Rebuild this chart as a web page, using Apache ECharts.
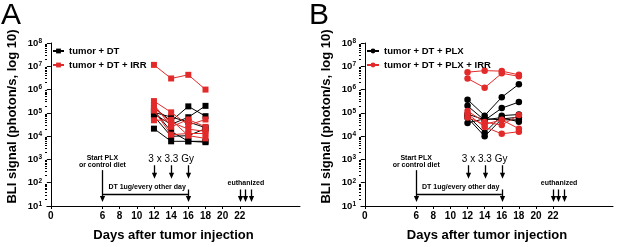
<!DOCTYPE html>
<html><head><meta charset="utf-8">
<script src="https://cdn.jsdelivr.net/npm/echarts@6/dist/echarts.min.js"></script>
<style>html,body{margin:0;padding:0;background:#fff}#c{width:617px;height:247px}</style>
</head><body><div id="c"></div>
<script>
// ---- data ----
const days = [12, 14, 16, 18];
const xTickLabels = [0, 6, 8, 10, 12, 14, 16, 18, 20, 22];
const yTickLabels = [1e1, 1e2, 1e3, 1e4, 1e5, 1e6, 1e7, 1e8];
const seriesNamesA = ['tumor + DT', 'tumor + DT + IRR'];
const seriesNamesB = ['tumor + DT + PLX', 'tumor + DT + PLX + IRR'];
// Panel A (BLI photon/s) one row per mouse, values at days 12,14,16,18
const aBlack = [
  [1.7e5, 4.4e4, 1.9e5, 7.2e4],
  [8.9e4, 3.2e4, 6.5e4, 2.0e5],
  [1.05e5, 6.6e4, 4.1e4, 2.3e4],
  [7.2e4, 9.8e3, 1.05e4, 2.1e4],
  [2.1e4, 6.0e3, 6.0e3, 5.5e3],
  [1.26e5, 1.6e4, 6.0e3, 6.0e3]
];
const aRed = [
  [1.15e7, 3.0e6, 4.3e6, 1.0e6],
  [3.2e5, 1.05e5, 3.0e4, 5.2e4],
  [2.3e5, 2.5e4, 5.2e4, 2.5e4],
  [1.26e5, 1.15e4, 1.3e4, 1.3e4],
  [4.8e4, 5.0e4, 1.05e4, 8.0e3],
  [1.6e5, 4.0e4, 2.0e4, 1.6e4]
];
// Panel B
const bBlack = [
  [3.7e5, 7.6e4, 4.7e5, 1.7e6],
  [2.0e5, 4.8e4, 1.6e5, 2.9e5],
  [7.6e4, 1.4e4, 7.6e4, 8.5e4],
  [6.2e4, 9.8e3, 5.5e4, 6.5e4],
  [3.7e4, 5.6e4, 5.0e4, 5.0e4],
  [8.9e4, 5.0e4, 6.3e4, 4.1e4]
];
const bRed = [
  [5.6e6, 6.5e6, 6.2e6, 4.3e6],
  [3.0e6, 1.2e6, 5.0e6, 3.7e6],
  [1.2e5, 4.0e4, 3.0e4, 8.0e4],
  [8.9e4, 2.5e4, 1.26e4, 1.55e4],
  [6.3e4, 3.2e4, 5.0e4, 2.1e4]
];

// ---- style ----
const FONT = "'Liberation Sans', Arial, sans-serif";
const BLACK = '#000000';
const RED = '#e32a2a';
const minorTicks = [];
for (let k = 1; k < 8; k++) for (let m = 2; m <= 9; m++) minorTicks.push(m * Math.pow(10, k));

const grids = [
  {left: 47, top: 43, width: 253, height: 169},
  {left: 361, top: 43, width: 252, height: 169}
];

function xAxisFor(gi) {
  return {
    type: 'value', gridIndex: gi, min: -0.45, max: 29,
    name: 'Days after tumor injection', nameLocation: 'middle', nameGap: 23,
    nameTextStyle: {fontFamily: FONT, fontWeight: 'bold', fontSize: 13, color: '#000'},
    axisLine: {show: true, onZero: false, lineStyle: {color: '#000', width: 1}},
    axisTick: {show: true, length: 3, customValues: xTickLabels, lineStyle: {color: '#000'}},
    axisLabel: {show: true, customValues: xTickLabels, margin: 5, fontFamily: FONT, fontWeight: 'bold', fontSize: 10, color: '#000'},
    splitLine: {show: false}
  };
}
function yAxisMain(gi) {
  return {
    type: 'log', logBase: 10, gridIndex: gi, min: 10, max: 1e8, position: 'left',
    name: 'BLI signal (photon/s, log 10)', nameLocation: 'middle', nameGap: 28,
    nameTextStyle: {fontFamily: FONT, fontWeight: 'bold', fontSize: 13, color: '#000', padding: [0, 0, 0, 16]},
    axisLine: {show: true, lineStyle: {color: '#000', width: 1}},
    axisTick: {show: true, length: 4, customValues: yTickLabels, lineStyle: {color: '#000'}},
    axisLabel: {
      show: true, customValues: yTickLabels, margin: 5,
      formatter: v => '{b|10}{s|' + Math.round(Math.log10(v)) + '}',
      rich: {
        b: {fontFamily: FONT, fontWeight: 'bold', fontSize: 9.5, color: '#000', lineHeight: 11},
        s: {fontFamily: FONT, fontWeight: 'bold', fontSize: 6.5, color: '#000', verticalAlign: 'top', lineHeight: 7}
      }
    },
    splitLine: {show: false}
  };
}
function yAxisMinor(gi) {
  return {
    type: 'log', logBase: 10, gridIndex: gi, min: 10, max: 1e8, position: 'left', offset: 0,
    axisLine: {show: false},
    axisTick: {show: true, length: 2, customValues: minorTicks, lineStyle: {color: '#000'}},
    axisLabel: {show: false},
    splitLine: {show: false}
  };
}

function makeSeries(rows, name, color, symbol, xi, yi) {
  return rows.map(r => ({
    type: 'line', name: name, xAxisIndex: xi, yAxisIndex: yi,
    data: days.map((d, i) => [d, r[i]]),
    symbol: symbol, symbolSize: symbol === 'rect' ? 6 : 6.5,
    itemStyle: {color: color}, lineStyle: {color: color, width: 1},
    emphasis: {disabled: true}, animation: false, z: color === RED ? 3 : 2
  }));
}

const series = [].concat(
  makeSeries(aBlack, seriesNamesA[0], BLACK, 'rect', 0, 0),
  makeSeries(aRed, seriesNamesA[1], RED, 'rect', 0, 0),
  makeSeries(bBlack, seriesNamesB[0], BLACK, 'circle', 1, 2),
  makeSeries(bRed, seriesNamesB[1], RED, 'circle', 1, 2)
);

const legendText = {fontFamily: FONT, fontWeight: 'bold', fontSize: 9.5, color: '#000'};
const chart = echarts.init(document.getElementById('c'), null, {renderer: 'canvas'});
chart.setOption({
  animation: false,
  backgroundColor: '#fff',
  grid: grids,
  xAxis: [xAxisFor(0), xAxisFor(1)],
  yAxis: [yAxisMain(0), yAxisMinor(0), yAxisMain(1), yAxisMinor(1)],
  legend: [
    {data: seriesNamesA, orient: 'vertical', left: 52, top: 46, itemWidth: 11, itemHeight: 6, itemGap: 4, textStyle: legendText, padding: 0, selectedMode: false},
    {data: seriesNamesB, orient: 'vertical', left: 366, top: 46, itemWidth: 12, itemHeight: 6, itemGap: 4, textStyle: legendText, padding: 0, selectedMode: false}
  ],
  series: series
});

// ---- annotations (data coordinates: day, BLI value) ----
const arrowsDown = [
  {x: 6, from: Math.pow(10, 2.54), to: Math.pow(10, 1.17)},
  {x: 16, from: Math.pow(10, 1.71), to: Math.pow(10, 1.17)},
  {x: 12, from: Math.pow(10, 2.75), to: Math.pow(10, 2.17)},
  {x: 14, from: Math.pow(10, 2.75), to: Math.pow(10, 2.17)},
  {x: 16, from: Math.pow(10, 2.75), to: Math.pow(10, 2.17)},
  {x: 22, from: Math.pow(10, 1.71), to: Math.pow(10, 1.17)},
  {x: 22.62, from: Math.pow(10, 1.71), to: Math.pow(10, 1.17)},
  {x: 23.25, from: Math.pow(10, 1.71), to: Math.pow(10, 1.17)}
];
const hLines = [{x1: 6, x2: 16, y: Math.pow(10, 1.5)}];
const texts = [
  {x: 6, y: Math.pow(10, 3.08), text: 'Start PLX', size: 7, bold: true},
  {x: 6, y: Math.pow(10, 2.75), text: 'or control diet', size: 7, bold: true},
  {x: 11.2, y: Math.pow(10, 1.81), text: 'DT 1ug/every other day', size: 7, bold: true},
  {x: 14, y: Math.pow(10, 3.0), text: '3 x 3.3 Gy', size: 10, bold: false},
  {x: 22.7, y: Math.pow(10, 2.0), text: 'euthanized', size: 7, bold: true}
];

const g = [];
[[0, 0], [1, 2]].forEach(([xi, yi]) => {
  const P = (x, y) => chart.convertToPixel({xAxisIndex: xi, yAxisIndex: yi}, [x, y]);
  arrowsDown.forEach(a => {
    const p1 = P(a.x, a.from), p2 = P(a.x, a.to);
    const hx = Math.round(p1[0]) + 0.5;
    g.push({type: 'line', shape: {x1: hx, y1: p1[1], x2: hx, y2: p2[1] - 5}, style: {stroke: '#000', lineWidth: 1.3}, silent: true});
    g.push({type: 'polygon', shape: {points: [[hx - 2.6, p2[1] - 6], [hx + 2.6, p2[1] - 6], [hx, p2[1]]]}, style: {fill: '#000'}, silent: true});
  });
  hLines.forEach(h => {
    const p1 = P(h.x1, h.y), p2 = P(h.x2, h.y);
    g.push({type: 'line', shape: {x1: p1[0], y1: Math.round(p1[1]) + 0.5, x2: p2[0], y2: Math.round(p1[1]) + 0.5}, style: {stroke: '#000', lineWidth: 1.3}, silent: true});
  });
  texts.forEach(t => {
    const p = P(t.x, t.y);
    g.push({type: 'text', x: p[0], y: p[1], style: {text: t.text, align: 'center', verticalAlign: 'middle', fill: '#000',
      font: (t.bold ? 'bold ' : '') + t.size + 'px ' + FONT}, silent: true});
  });
});
g.push({type: 'text', x: 1, y: 1, style: {text: 'A', fill: '#000', font: '30px ' + FONT}});
g.push({type: 'text', x: 309, y: 1, style: {text: 'B', fill: '#000', font: '30px ' + FONT}});
chart.setOption({graphic: g});
</script>
</body></html>
